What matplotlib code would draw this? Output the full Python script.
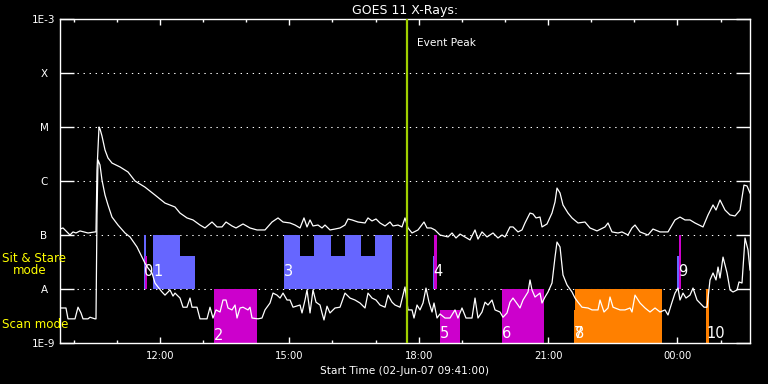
import numpy as np
import matplotlib
matplotlib.use('Agg')
import matplotlib.pyplot as plt
from matplotlib.ticker import FixedLocator, MultipleLocator, NullLocator

# GOES 11 x-ray flux from 02-Jun-07 09:41 UT, time in UT hours (>24 = 03-Jun)
# long channel (1-8 A), W/m^2
t_long = [9.683, 9.753, 9.822, 9.915, 9.985, 10.054, 10.147, 10.333, 10.495, 10.518,
          10.541, 10.588, 10.611, 10.657, 10.727, 10.796, 10.889, 11.075, 11.260, 11.423,
          11.654, 11.886, 12.118, 12.350, 12.466, 12.628, 12.767, 12.930, 13.045, 13.208,
          13.324, 13.440, 13.533, 13.672, 13.765, 13.927, 14.089, 14.251, 14.437, 14.600,
          14.739, 14.855, 15.017, 15.133, 15.249, 15.341, 15.411, 15.481, 15.550, 15.666,
          15.759, 15.828, 15.944, 16.060, 16.176, 16.292, 16.362, 16.454, 16.593, 16.756,
          16.825, 16.918, 17.011, 17.104, 17.220, 17.336, 17.405, 17.521, 17.614, 17.683,
          17.753, 17.846, 17.985, 18.124, 18.194, 18.287, 18.379, 18.495, 18.681, 18.774,
          18.866, 18.959, 19.075, 19.191, 19.307, 19.376, 19.469, 19.585, 19.724, 19.840,
          19.933, 20.002, 20.118, 20.188, 20.304, 20.396, 20.466, 20.582, 20.652, 20.721,
          20.814, 20.860, 20.976, 21.092, 21.162, 21.208, 21.278, 21.347, 21.463, 21.556,
          21.695, 21.857, 21.973, 22.136, 22.321, 22.391, 22.483, 22.623, 22.715, 22.854,
          22.947, 23.017, 23.133, 23.318, 23.434, 23.597, 23.782, 23.875, 23.944, 24.060,
          24.176, 24.292, 24.408, 24.594, 24.710, 24.826, 24.895, 24.988, 25.104, 25.220,
          25.336, 25.452, 25.544, 25.614, 25.683]
f_long = [1.29e-7, 1.35e-7, 1.19e-7, 1.0e-7, 1.14e-7, 1.09e-7, 1.19e-7, 1.09e-7, 1.14e-7, 1.14e-7,
          1.6e-6, 1.0e-5, 9.2e-6, 6.8e-6, 3.75e-6, 2.67e-6, 2.15e-6, 1.82e-6, 1.47e-6, 1.0e-6,
          7.7e-7, 5.5e-7, 3.9e-7, 3.3e-7, 2.55e-7, 2.07e-7, 1.9e-7, 1.53e-7, 1.35e-7, 1.74e-7,
          1.41e-7, 1.41e-7, 1.74e-7, 1.47e-7, 1.35e-7, 1.6e-7, 1.35e-7, 1.24e-7, 1.24e-7, 1.74e-7,
          2.07e-7, 1.74e-7, 1.67e-7, 1.53e-7, 1.35e-7, 2.07e-7, 1.41e-7, 1.9e-7, 1.47e-7, 1.53e-7,
          1.35e-7, 1.53e-7, 1.24e-7, 1.29e-7, 1.35e-7, 1.53e-7, 1.98e-7, 1.9e-7, 1.74e-7, 1.67e-7,
          2.07e-7, 1.82e-7, 1.98e-7, 1.67e-7, 1.47e-7, 1.74e-7, 1.47e-7, 1.53e-7, 1.41e-7, 2.07e-7,
          1.35e-7, 1.09e-7, 1.24e-7, 1.74e-7, 1.35e-7, 1.35e-7, 1.24e-7, 1.0e-7, 9.2e-8, 1.09e-7,
          8.8e-8, 1.04e-7, 9.2e-8, 8.1e-8, 1.24e-7, 8.4e-8, 1.14e-7, 9.2e-8, 1.09e-7, 8.8e-8,
          1.0e-7, 9.2e-8, 1.41e-7, 1.41e-7, 1.14e-7, 1.24e-7, 1.67e-7, 2.55e-7, 2.45e-7, 2.07e-7,
          2.15e-7, 1.41e-7, 1.6e-7, 2.55e-7, 4.1e-7, 7.4e-7, 6.0e-7, 3.6e-7, 2.55e-7, 2.07e-7,
          1.67e-7, 1.74e-7, 1.35e-7, 1.19e-7, 1.41e-7, 1.67e-7, 1.14e-7, 1.09e-7, 1.14e-7, 1.0e-7,
          1.35e-7, 1.53e-7, 1.14e-7, 1.0e-7, 1.29e-7, 1.14e-7, 1.14e-7, 1.53e-7, 1.9e-7, 2.15e-7,
          1.9e-7, 1.9e-7, 1.67e-7, 1.41e-7, 2.35e-7, 3.6e-7, 2.9e-7, 4.45e-7, 2.9e-7, 2.35e-7,
          2.25e-7, 2.9e-7, 8.4e-7, 8.1e-7, 6.0e-7]

# short channel (0.5-4 A), W/m^2
t_short = [9.683, 9.822, 9.869, 10.031, 10.101, 10.170, 10.217, 10.333, 10.379, 10.495,
           10.518, 10.541, 10.565, 10.611, 10.657, 10.727, 10.796, 10.889, 11.028, 11.190,
           11.307, 11.469, 11.585, 11.654, 11.724, 11.817, 11.886, 11.956, 12.049, 12.118,
           12.234, 12.304, 12.350, 12.466, 12.536, 12.628, 12.698, 12.744, 12.860, 12.930,
           13.092, 13.162, 13.231, 13.301, 13.394, 13.463, 13.533, 13.579, 13.672, 13.742,
           13.788, 13.858, 13.927, 14.043, 14.089, 14.136, 14.275, 14.367, 14.437, 14.553,
           14.623, 14.716, 14.786, 14.855, 14.948, 15.017, 15.087, 15.249, 15.295, 15.365,
           15.411, 15.481, 15.550, 15.620, 15.713, 15.759, 15.805, 15.875, 15.944, 16.060,
           16.176, 16.292, 16.408, 16.524, 16.640, 16.756, 16.825, 16.918, 17.011, 17.104,
           17.220, 17.290, 17.382, 17.452, 17.568, 17.683, 17.753, 17.846, 17.892, 17.962,
           18.031, 18.101, 18.170, 18.240, 18.310, 18.356, 18.426, 18.495, 18.611, 18.727,
           18.843, 18.912, 19.005, 19.098, 19.237, 19.307, 19.376, 19.469, 19.539, 19.608,
           19.701, 19.771, 19.886, 19.956, 20.049, 20.118, 20.188, 20.304, 20.350, 20.420,
           20.536, 20.582, 20.628, 20.698, 20.814, 20.860, 20.930, 21.000, 21.092, 21.162,
           21.208, 21.278, 21.347, 21.440, 21.556, 21.625, 21.695, 21.788, 21.927, 22.020,
           22.159, 22.205, 22.298, 22.391, 22.437, 22.507, 22.669, 22.785, 22.901, 22.947,
           23.017, 23.133, 23.249, 23.365, 23.481, 23.597, 23.713, 23.782, 23.875, 23.944,
           24.014, 24.060, 24.130, 24.199, 24.292, 24.362, 24.455, 24.524, 24.617, 24.687,
           24.756, 24.826, 24.895, 24.942, 24.988, 25.058, 25.151, 25.220, 25.290, 25.383,
           25.429, 25.498, 25.568, 25.637, 25.683]
f_short = [4.45e-9, 4.45e-9, 2.8e-9, 2.8e-9, 4.6e-9, 3.6e-9, 2.8e-9, 2.8e-9, 3.0e-9, 2.8e-9,
           2.8e-9, 2.35e-7, 2.45e-6, 1.98e-6, 1.04e-6, 5.5e-7, 3.6e-7, 2.15e-7, 1.53e-7, 1.09e-7,
           9.2e-8, 6.0e-8, 3.9e-8, 3.0e-8, 2.45e-8, 1.98e-8, 1.29e-8, 1.09e-8, 8.8e-9, 7.7e-9,
           9.6e-9, 7.4e-9, 8.4e-9, 6.8e-9, 4.6e-9, 4.6e-9, 6.8e-9, 4.6e-9, 4.6e-9, 2.8e-9,
           2.8e-9, 4.6e-9, 2.9e-9, 4.1e-9, 3.75e-9, 6.25e-9, 6.25e-9, 4.45e-9, 4.1e-9, 5.05e-9,
           2.9e-9, 4.45e-9, 4.6e-9, 4.1e-9, 4.6e-9, 2.9e-9, 2.8e-9, 2.9e-9, 4.1e-9, 5.5e-9,
           8.4e-9, 7.7e-9, 6.8e-9, 8.4e-9, 6.25e-9, 6.25e-9, 4.6e-9, 5.05e-9, 3.6e-9, 6.25e-9,
           9.6e-9, 3.6e-9, 9.6e-9, 5.7e-9, 5.05e-9, 3.6e-9, 2.67e-9, 4.8e-9, 3.6e-9, 4.45e-9,
           4.6e-9, 8.4e-9, 6.8e-9, 6.25e-9, 5.5e-9, 4.45e-9, 8.4e-9, 6.8e-9, 6.25e-9, 5.05e-9,
           4.6e-9, 7.7e-9, 5.7e-9, 5.05e-9, 4.6e-9, 1.09e-8, 4.1e-9, 4.1e-9, 2.9e-9, 5.05e-9,
           4.1e-9, 5.5e-9, 1.04e-8, 5.7e-9, 3.75e-9, 5.5e-9, 2.9e-9, 3.45e-9, 2.9e-9, 2.9e-9,
           4.1e-9, 2.9e-9, 4.45e-9, 2.9e-9, 2.9e-9, 6.8e-9, 2.9e-9, 3.75e-9, 5.7e-9, 5.05e-9,
           6.25e-9, 4.1e-9, 3.75e-9, 3.0e-9, 3.6e-9, 5.7e-9, 6.8e-9, 5.05e-9, 4.45e-9, 6.25e-9,
           8.8e-9, 1.47e-8, 9.6e-9, 7.1e-9, 8.4e-9, 5.5e-9, 7.1e-9, 8.8e-9, 1.29e-8, 3.9e-8,
           7.4e-8, 6.0e-8, 1.82e-8, 1.19e-8, 8.8e-9, 6.8e-9, 5.7e-9, 4.6e-9, 4.45e-9, 4.1e-9,
           4.1e-9, 6.25e-9, 3.75e-9, 4.45e-9, 7.1e-9, 4.6e-9, 4.1e-9, 4.1e-9, 4.45e-9, 3.75e-9,
           7.7e-9, 5.5e-9, 4.45e-9, 3.75e-9, 4.45e-9, 3.75e-9, 4.1e-9, 3.3e-9, 5.7e-9, 8.4e-9,
           1.04e-8, 6.25e-9, 8.4e-9, 6.8e-9, 7.7e-9, 1.04e-8, 6.25e-9, 5.5e-9, 4.6e-9, 4.6e-9,
           1.47e-8, 1.98e-8, 1.47e-8, 2.55e-8, 1.6e-8, 3.9e-8, 1.98e-8, 9.6e-9, 8.8e-9, 9.6e-9,
           1.35e-8, 1.29e-8, 8.8e-8, 5.3e-8, 2.25e-8]

# observation blocks: start / end (UT h), bottom / top (W/m^2)
blue_t0 = [11.631, 11.839, 12.466, 14.877, 15.249, 15.573, 15.968, 16.292, 16.663, 16.988, 18.333, 23.991]
blue_t1 = [11.666, 12.466, 12.814, 15.249, 15.573, 15.968, 16.292, 16.663, 16.988, 17.381, 18.356, 24.037]
blue_top = [1e-7, 1e-7, 4.1e-8, 1e-7, 4.1e-8, 1e-7, 4.1e-8, 1e-7, 4.1e-8, 1e-7, 4.1e-8, 4.1e-8]
blue_bot = [1e-8] * 12

mag_t0 = [11.654, 13.254, 18.356, 18.495, 19.933, 24.037]
mag_t1 = [11.701, 14.251, 18.425, 18.959, 20.906, 24.083]
mag_bot = [1e-8, 1e-9, 1e-8, 1e-9, 1e-9, 1e-8]
mag_top = [4.1e-8, 1e-8, 1e-7, 4.1e-9, 1e-8, 1e-7]

orn_t0 = [21.602, 21.625, 24.663]
orn_t1 = [21.700, 23.643, 24.733]
orn_bot = [1e-9, 1e-9, 1e-9]
orn_top = [4.1e-9, 1e-8, 1e-8]

block_ids = ['0', '1', '2', '3', '4', '5', '6', '7', '8', '9', '10']
block_t = [11.640, 11.839, 13.254, 14.877, 18.333, 18.495, 19.933, 21.602, 21.625, 24.014, 24.663]
block_y = [2.1e-8, 2.1e-8, 1.35e-9, 2.1e-8, 2.1e-8, 1.53e-9, 1.53e-9, 1.53e-9, 1.53e-9, 2.1e-8, 1.53e-9]

level_flux = [1e-9, 1e-8, 1e-7, 1e-6, 1e-5, 1e-4, 1e-3]
level_names = ['1E-9', 'A', 'B', 'C', 'M', 'X', '1E-3']
hour_ticks = [12, 15, 18, 21, 24]
hour_labels = ['12:00', '15:00', '18:00', '21:00', '00:00']
t_start, t_end = 9 + 41/60, 25 + 41/60
event_peak = 17.722

fig = plt.figure(figsize=(7.68, 3.84), dpi=100, facecolor='black')
ax = fig.add_axes([60/768, 41/384, 690/768, 324/384])
ax.set_facecolor('black')
ax.set_yscale('log')

# dotted class levels
for lev in level_flux[1:-1]:
    ax.axhline(lev, xmin=0.025, xmax=0.975, color='white', lw=0.75,
               ls=(0, (1.3, 4.5)), zorder=1)

def blocks(t0, t1, bot, top, col):
    t0 = np.array(t0); t1 = np.array(t1)
    bot = np.array(bot); top = np.array(top)
    ax.bar(t0, top - bot, width=t1 - t0, bottom=bot, align='edge',
           color=col, linewidth=0, zorder=2)

blocks(blue_t0, blue_t1, blue_bot, blue_top, '#6666ff')
blocks(mag_t0, mag_t1, mag_bot, mag_top, '#cc00cc')
blocks(orn_t0, orn_t1, orn_bot, orn_top, '#ff8000')

ax.plot(t_long, f_long, color='white', lw=0.9, zorder=3)
ax.plot(t_short, f_short, color='white', lw=0.9, zorder=3)

for s, t, y in zip(block_ids, block_t, block_y):
    ax.text(t, y, s, color='white', fontsize=10.5, ha='left', va='center', zorder=4)

ax.axvline(event_peak, color='#a0d000', lw=1.6, zorder=5)
ax.annotate('Event Peak', xy=(event_peak, 0.926), xycoords=('data', 'axes fraction'),
            xytext=(7.4, 0), textcoords='offset points', color='white',
            fontsize=7.6, va='center')

ax.set_xlim(t_start, t_end)
ax.set_ylim(1e-9, 1e-3)

ax.xaxis.set_major_locator(FixedLocator(hour_ticks))
ax.set_xticklabels(hour_labels)
ax.xaxis.set_minor_locator(MultipleLocator(1))
ax.yaxis.set_major_locator(FixedLocator(level_flux))
ax.yaxis.set_minor_locator(NullLocator())
ax.set_yticklabels(level_names)

ax.tick_params(axis='both', which='both', direction='in', colors='white',
               top=True, right=True, width=1)
ax.tick_params(axis='y', which='major', length=10, pad=11.5, labelsize=7.5)
ax.tick_params(axis='x', which='major', length=4.3, pad=6, labelsize=7.2)
ax.tick_params(axis='x', which='minor', length=2.2)
for lbl in ax.get_yticklabels():
    lbl.set_ha('center')
for sp in ax.spines.values():
    sp.set_color('white')
    sp.set_linewidth(1)

ax.set_title('GOES 11 X-Rays:', color='white', fontsize=9, pad=3.6)
ax.set_xlabel('Start Time (02-Jun-07 09:41:00)', color='white', fontsize=7.6, labelpad=3)

fig.text(2/768, 1 - 259/384, 'Sit & Stare', color='yellow', fontsize=8.6, va='center')
fig.text(13/768, 1 - 271/384, 'mode', color='yellow', fontsize=8.6, va='center')
fig.text(2/768, 1 - 324/384, 'Scan mode', color='yellow', fontsize=8.6, va='center')

fig.savefig('out.png', dpi=100, facecolor='black')
